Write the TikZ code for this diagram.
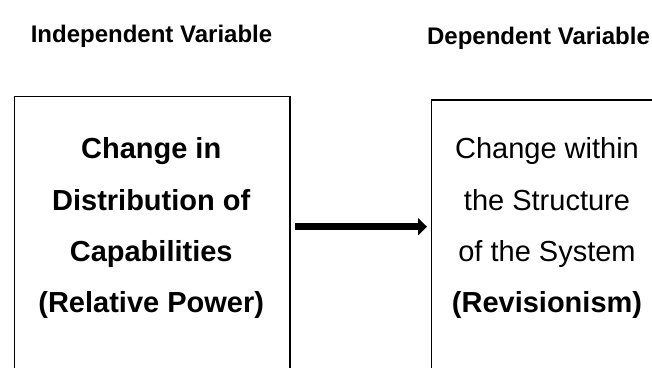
\documentclass[tikz,border=0pt]{standalone}
\usepackage{fontspec}
\setmainfont{Liberation Sans}
\usetikzlibrary{arrows.meta}
\usetikzlibrary{calc}

\tikzset{
  varbox/.style={draw=black, line width=1.8pt, anchor=north west, inner sep=0pt, minimum height=300pt},
  boxtext/.style={anchor=base, inner sep=0pt, font=\fontsize{29}{35}\selectfont},
  heading/.style={anchor=base, inner sep=0pt, font=\fontsize{24}{28}\selectfont\bfseries},
  causearrow/.style={line width=7pt, -{Triangle[length=9pt, width=17pt]}}
}

\begin{document}
\begin{tikzpicture}[x=1pt, y=1pt]
    \useasboundingbox (0,0) rectangle (652,367);
    \clip (0,0) rectangle (652,367);
    % headings
    \node[heading] (indep) at (151.5, 324) {Independent Variable};
    \node[heading] (dep)   at (538.5, 322) {Dependent Variable};
    % boxes, open towards the bottom edge
    \node[varbox, minimum width=275.5pt] (causebox)  at (13.5, 271.3) {};
    \node[varbox, minimum width=233pt]   (effectbox) at (430.5, 268) {};
    % box texts
    \foreach \txt [count=\i] in {Change in, Distribution of, Capabilities, (Relative Power)}
        \node[boxtext] (cause-\i) at (151.2, 259-51*\i) {\bfseries\txt};
    \foreach \txt [count=\i] in {Change within, the Structure, of the System, \textbf{(Revisionism)}}
        \node[boxtext] (effect-\i) at (547, 259-51*\i) {\txt};
    % arrow between the boxes
    \coordinate (shaft) at (0, 140.3);
    \draw [causearrow, shorten <=4pt, shorten >=3.5pt] (causebox.east |- shaft) -- (effectbox.west |- shaft);
\end{tikzpicture}
\end{document}
